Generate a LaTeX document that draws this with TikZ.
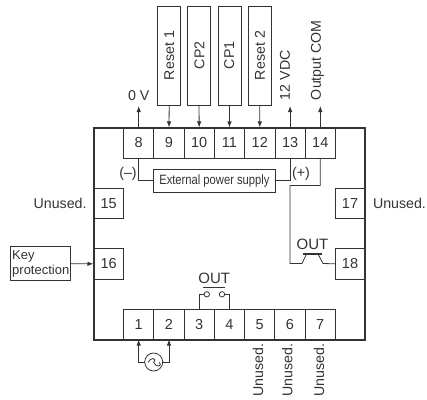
\documentclass[tikz,border=0pt]{standalone}
\usepackage{fontspec}
\setmainfont{Liberation Sans}
\usetikzlibrary{arrows.meta}
\definecolor{ink}{gray}{0.2}
\tikzset{
  x=1pt,y=-1pt,
  every node/.style={text=ink,inner sep=0pt,outer sep=0pt},
  term/.style={draw=ink,line width=0.8pt,minimum width=30.3pt,minimum height=30.5pt,font=\fontsize{14.5}{16}\selectfont},
  sterm/.style={term,minimum width=30pt},
  lab/.style={font=\fontsize{14.2}{16}\selectfont},
  sig/.style={draw=ink,line width=0.8pt,minimum width=23pt,minimum height=98.5pt},
  wire/.style={draw=ink,line width=0.8pt},
  arr/.style={wire,-{Latex[length=6pt,width=4.5pt]}},
}
\begin{document}
\begin{tikzpicture}
\useasboundingbox (0,0) rectangle (427,399);
% frame
\coordinate (fa) at (93.5,127.5);
\coordinate (fb) at (365,339.5);
\node[term] (t8) at (138.7,142.7) {8};
\node[term] (t9) at (169,142.7) {9};
\node[term] (t10) at (199.2,142.7) {10};
\node[term] (t11) at (229.5,142.7) {11};
\node[term] (t12) at (259.8,142.7) {12};
\node[term] (t13) at (290.1,142.7) {13};
\node[term] (t14) at (320.3,142.7) {14};
\node[term] (t1) at (138.7,324.3) {1};
\node[term] (t2) at (169,324.3) {2};
\node[term] (t3) at (199.2,324.3) {3};
\node[term] (t4) at (229.5,324.3) {4};
\node[term] (t5) at (259.6,324.3) {5};
\node[term] (t6) at (289.9,324.3) {6};
\node[term] (t7) at (320.1,324.3) {7};
\node[sterm] (t15) at (108.6,203.2) {15};
\node[sterm] (t16) at (108.6,263.8) {16};
\node[sterm] (t17) at (350,203.2) {17};
\node[sterm] (t18) at (350,263.8) {18};
\draw[draw=ink,line width=2pt] (fa) rectangle (fb);
% signal boxes
\node[sig] (r1) at (169.2,55.8) {};
\node[rotate=90,lab,anchor=west] (lr1) at (169.2,80) {Reset 1};
\node[sig] (cp2) at (199,55.8) {};
\node[rotate=90,lab,anchor=west] (lcp2) at (199.4,69) {CP2};
\node[sig] (cp1) at (229.4,55.8) {};
\node[rotate=90,lab,anchor=west] (lcp1) at (229.2,69) {CP1};
\node[sig] (r2) at (259.7,55.8) {};
\node[rotate=90,lab,anchor=west] (lr2) at (260,80) {Reset 2};
\draw[arr] (r1.south) -- (t9.north);
\draw[arr] (cp2.south) -- (t10.north);
\draw[arr] (cp1.south) -- (t11.north);
\draw[arr] (r2.south) -- (t12.north);
% outputs
\coordinate (u8) at (138.7,106);
\coordinate (u13) at (290.1,106);
\coordinate (u14) at (320.3,106);
\draw[arr] (t8.north) -- (u8);
\draw[arr] (t13.north) -- (u13);
\draw[arr] (t14.north) -- (u14);
\node[lab] (zerov) at (138.8,96) {0 V};
\node[lab,rotate=90,anchor=west] (v12) at (285,100) {12 VDC};
\node[lab,rotate=90,anchor=west] (ocom) at (317.5,100) {Output COM};
% external supply
\node[draw=ink,line width=0.8pt,minimum width=122.7pt,minimum height=23pt,font=\fontsize{13.5}{15}\selectfont] (ext) at (214.4,180.8) {\addfontfeature{FakeStretch=0.83}External power supply};
\draw[wire] (t8.south) |- (ext.west);
\draw[wire] (t13.south) |- (ext.east);
\node[lab] (minus) at (128,174) {(–)};
\node[lab] (plus) at (301,174) {(+)};
% OUT transistor
\coordinate (k1) at (320.3,185.5);
\coordinate (k2) at (290,185.5);
\coordinate (k3) at (290,263.5);
\coordinate (q1) at (302,263.5);
\coordinate (q2) at (306.5,254);
\coordinate (q3) at (318,254);
\coordinate (q4) at (323,263.5);
\draw[wire] (t14.south) -- (k1) -- (k2) -- (k3) -- (q1) -- (q2);
\draw[wire] (t18.west) -- (q4) -- (q3);
\draw[draw=ink,line width=1.8pt] (303.3,253.7) -- (321.7,253.7);
\node[font=\fontsize{15}{17}\selectfont] (outa) at (312.5,244.5) {OUT};
% OUT contact
\node[circle,draw=ink,line width=0.8pt,minimum size=5.4pt] (c1) at (206.8,294.3) {};
\node[circle,draw=ink,line width=0.8pt,minimum size=5.4pt] (c2) at (222,294.3) {};
\draw[wire] (t3.north) |- (c1.west);
\draw[wire] (t4.north) |- (c2.east);
\draw[wire] (203,287.4) -- (225,287.4);
\node[font=\fontsize{15}{17}\selectfont] (outb) at (214.2,278) {OUT};
% AC source
\node[circle,draw=ink,line width=0.8pt,minimum size=18pt] (ac) at (153.7,362) {};
\draw[wire] (ac.center) ++(-5.5,0.3) .. controls +(1.8,-5) and +(3.7,-5) .. ++(5.5,0) .. controls +(1.8,5) and +(3.7,5) .. ++(5.5,0);
\draw[arr] (ac.west) -| (t1.south);
\draw[arr] (ac.east) -| (t2.south);
% key protection
\node[draw=ink,line width=0.8pt,minimum width=60.7pt,minimum height=34pt] (key) at (40.4,263.7) {};
\node[anchor=west,align=left,font=\fontsize{13}{14.5}\selectfont] (keyl) at (12.2,263.7) {Key\\protection};
\draw[arr] (key.east) -- (t16.west -| fa);
% unused
\node[lab,anchor=east] (un15) at (86.5,203) {Unused.};
\node[lab,anchor=west] (un17) at (373,203.5) {Unused.};
\node[lab,rotate=90,anchor=east] (un5) at (258,344) {Unused.};
\node[lab,rotate=90,anchor=east] (un6) at (287.2,344) {Unused.};
\node[lab,rotate=90,anchor=east] (un7) at (319,344) {Unused.};
\end{tikzpicture}
\end{document}
